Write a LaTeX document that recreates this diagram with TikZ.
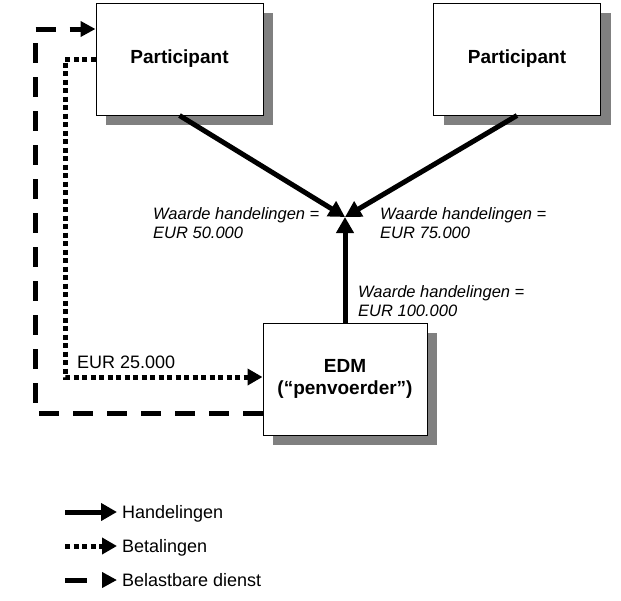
\documentclass[tikz,border=0pt]{standalone}
\usepackage{fontspec}
\setmainfont{Liberation Sans}
\usetikzlibrary{arrows.meta,shadows}
\newcommand{\boxfont}{\fontsize{19}{22}\selectfont\bfseries}
\newcommand{\valfont}{\fontsize{16.5}{19.5}\selectfont\itshape}
\newcommand{\legfont}{\fontsize{18}{22}\selectfont}

\begin{document}
\begin{tikzpicture}[x=1pt, y=-1pt,
  party/.style={rectangle, draw, line width=1pt, fill=white, minimum width=167pt, minimum height=112pt,
    align=center, font=\boxfont, drop shadow={shadow xshift=10pt, shadow yshift=-10pt, fill=black!50, opacity=1}},
  val/.style={align=left, anchor=north west, inner sep=0pt, font=\valfont},
  act/.style={line width=5pt, -{Triangle[length=16pt,width=17pt]}},
  pay/.style={line width=5pt, dash pattern=on 5pt off 3.5pt, -{Triangle[length=15pt,width=16pt]}},
  svc/.style={line width=5pt, dash pattern=on 20pt off 14pt, -{Triangle[length=15pt,width=15pt]}},
  svcleg/.style={svc, dash pattern=on 22pt off 20pt}]

\path[use as bounding box] (0,0) rectangle (621,600);

% Boxes
\node[party] (partA) at (179.5,59) {Participant};
\node[party] (partB) at (517,59) {Participant};
\node[party, minimum width=164pt] (edm) at (345,379) {EDM\\(``penvoerder'')};

% Handelingen
\coordinate (hub) at (345,217);
\draw[act] (partA.south) -- (hub);
\draw[act] (partB.south) -- (hub);
\draw[act] (edm.north) -- (hub);

\node[val] (valA) at (153,207) {Waarde handelingen =\\EUR 50.000};
\node[val] (valB) at (380,207) {Waarde handelingen =\\EUR 75.000};
\node[val] (valE) at (358,285) {Waarde handelingen =\\EUR 100.000};

% Betalingen
\coordinate (payturn) at (65,377);
\draw[pay] (partA.west) -| (payturn) -- (payturn -| edm.west);
\node[anchor=base west, inner sep=0pt, font=\legfont] (payval) at (77,368) {EUR 25.000};

% Belastbare dienst
\coordinate (svcturn) at (35,29);
\draw[svc] ([yshift=-34pt]edm.west) -| (svcturn) -- (svcturn -| partA.west);

% Legend
\foreach \s/\t [count=\i] in {act/Handelingen, pay/Betalingen, svcleg/Belastbare dienst} {
   \node[anchor=base west, inner sep=0pt, font=\legfont] (leg\i) at (122,484+34*\i) {\t};
   \draw[\s] ([xshift=-57pt, yshift=6pt]leg\i.base west) -- ([xshift=-5pt, yshift=6pt]leg\i.base west);
}
\end{tikzpicture}
\end{document}
